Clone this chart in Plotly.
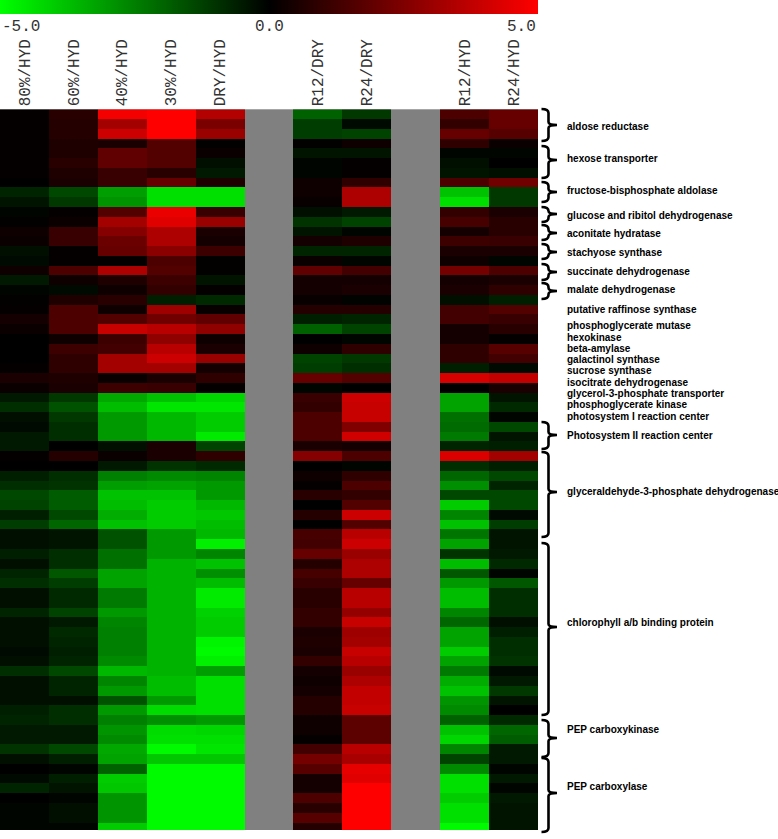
import plotly.graph_objects as go

W, H = 778, 839
column_labels = ["80%/HYD", "60%/HYD", "40%/HYD", "30%/HYD", "DRY/HYD", "",
                 "R12/DRY", "R24/DRY", "", "R12/HYD", "R24/HYD"]
tick_labels = ["-5.0", "0.0", "5.0"]

# Each row: 80, 60, 40, 30, DRY | R12/DRY, R24/DRY | R12/HYD, R24/HYD  (log ratio)
rows_aldose_hexose = [
    [.1, .8, 4.8, 5, 3.5, -1.9, -1.1, 1.5, 2.0],
    [.1, .7, 3.2, 5, 2.4, -1.2, -.2, 1.0, 2.0],
    [.1, .7, 4.0, 5, 3.0, -1.2, -1.3, 2.0, 1.7],
    [.1, .6, .5, 1.6, .05, .05, .3, .9, .2],
    [.1, .6, 1.9, 1.6, .2, -.4, -.4, -.1, -.1],
    [.1, .8, 1.9, 1.6, -.3, -.1, .1, -.3, 0],
    [.1, .6, 1.1, .8, -.5, -.1, .1, -.4, -.3],
]
rows_aldolase_to_malate = [
    [0, .5, 1.1, 2.0, .6, .3, .9, 1.5, 2.2],
    [-.7, -1.4, -3.1, -4.4, -4.4, .3, 3.4, -3.8, -1.1],
    [-.4, -1.1, -2.9, -4.4, -4.4, .15, 3.4, -4.4, -1.1],
    [-.1, .1, 1.6, 4.6, 1.1, -.3, -.5, 1.0, .5],
    [.05, .2, 3.2, 4.4, 3.0, -1.0, -1.3, 1.4, .8],
    [.3, 1.1, 2.6, 3.4, .5, -.4, -.1, .4, .8],
    [.2, 1.1, 2.1, 3.4, .4, .4, .6, 1.2, 1.1],
    [-.3, .1, 2.0, 2.7, 1.2, -.7, -.7, .5, .5],
    [-.2, .1, .1, 1.5, .05, .2, -.1, .3, -.1],
    [.3, 1.5, 3.4, 1.6, .05, 1.9, 1.3, 2.3, 1.5],
    [-.5, .3, .6, 1.2, -.4, .4, .4, .4, .5],
    [-.1, -.2, .3, 1.0, .1, .4, .5, .5, .9],
    [.05, .6, .8, -.6, -.8, .15, -.05, -.3, -.6],
]
rows_single_genes = [
    [.1, 1.5, .3, 3.1, .15, .7, .7, 1.3, 1.6],
    [.4, 1.5, 1.6, 2.2, 1.9, -.6, -.7, 1.3, 1.1],
    [.2, 1.5, 3.9, 3.6, 2.8, -1.9, -1.3, .4, .8],
    [0, .3, 1.2, 2.8, .3, 0, -.1, .4, .1],
    [0, 1.2, 1.3, 3.6, .5, .3, .9, .9, 1.7],
    [0, .9, 3.2, 4.0, 3.0, -1.3, -1.1, .9, 1.3],
    [.1, .9, 3.2, 3.2, .4, -1.2, -.9, -.6, -.2],
    [.5, .6, .2, .5, .9, 2.0, 1.6, 4.2, 3.8],
    [.2, .5, 1.2, 1.1, .1, -.1, 0, 0, .5],
]
rows_photosystem = [
    [-.5, -1.1, -3.3, -3.8, -4.2, 1.1, 4.0, -3.2, -.4],
    [-.9, -1.6, -3.7, -4.5, -4.5, 1.0, 3.9, -3.2, -.8],
    [-.3, -1.1, -3.0, -3.6, -4.0, 1.5, 3.9, -2.2, -.1],
    [-.2, -.9, -3.0, -3.6, -4.0, 1.5, 2.5, -2.1, -1.4],
    [-.5, -.9, -3.0, -3.6, -4.6, 1.5, 4.1, -2.4, -.4],
    [-.5, 0, -.3, .5, -1.3, .5, .4, -.7, -.6],
    [.1, .7, .2, .5, .9, 2.6, 1.5, 4.3, 3.2],
    [0, 0, -.5, -1.0, -.8, 0, -.1, -.9, -.6],
]
rows_gapdh = [
    [-.6, -.9, -2.5, -2.7, -2.6, .3, .9, -2.0, -1.4],
    [-.9, -1.0, -3.1, -3.2, -3.0, .1, 1.5, -2.8, -.7],
    [-1.4, -1.8, -3.8, -3.8, -3.0, .8, 1.0, -1.4, -1.4],
    [-1.3, -1.8, -3.7, -4.0, -3.6, 0, 1.6, -4.0, -1.4],
    [-.6, -1.4, -3.4, -4.0, -3.9, .7, 4.0, -2.6, -.2],
    [-1.2, -2.0, -3.8, -4.0, -3.7, 0, 1.6, -3.8, -1.2],
]
rows_chlorophyll = [
    [-.3, -.4, -1.6, -3.0, -3.6, 1.4, 3.6, -2.3, -.4],
    [-.3, -.4, -1.6, -3.0, -4.7, 1.3, 4.0, -3.2, -.4],
    [-.6, -.9, -2.2, -3.0, -2.6, 2.0, 3.0, -1.0, -.5],
    [-.3, -.9, -2.2, -3.5, -3.8, .7, 3.4, -3.7, -.8],
    [-.7, -1.7, -3.2, -3.5, -2.8, 1.4, 3.4, -1.7, -.1],
    [-.9, -1.2, -3.2, -3.5, -3.7, 1.1, 2.0, -3.0, -1.7],
    [-.3, -.8, -2.4, -3.5, -4.6, .8, 3.6, -3.7, -.9],
    [-.3, -.8, -2.4, -3.5, -4.6, .8, 3.6, -3.7, -.9],
    [-.7, -1.3, -3.0, -3.5, -4.1, 1.0, 2.9, -2.6, -.9],
    [-.3, -.5, -2.6, -3.5, -4.0, 1.0, 3.9, -2.0, -.3],
    [-.3, -.8, -2.5, -3.5, -4.0, .5, 3.1, -3.2, -.6],
    [-.3, -.7, -2.5, -3.5, -4.8, .6, 3.2, -3.2, -.9],
    [-.2, -.6, -2.5, -3.5, -4.9, .5, 3.9, -4.0, -.9],
    [-.3, -.7, -2.7, -3.5, -4.7, 1.0, 3.6, -3.2, -1.0],
    [-.9, -1.4, -3.6, -3.5, -3.1, .4, 3.0, -2.4, -.2],
    [-.3, -.7, -2.6, -3.7, -4.4, .3, 3.4, -3.4, -.5],
    [-.3, -.7, -3.0, -3.7, -4.4, .4, 3.8, -3.8, -1.1],
    [-.3, -.3, -1.6, -3.0, -4.4, .7, 3.8, -2.9, -.4],
]
rows_pep = [
    [-.6, -.9, -3.0, -4.3, -4.4, .7, 3.9, -2.7, 0],
    [-.7, -.9, -2.5, -2.8, -3.0, .3, 1.8, -1.9, -.8],
    [-.5, -.5, -2.9, -4.3, -4.2, .3, 1.8, -3.8, -2.0],
    [-.5, -.5, -2.7, -4.4, -4.4, .1, 1.8, -4.2, -1.8],
    [-1.0, -1.4, -3.3, -4.9, -4.5, 1.3, 3.6, -2.6, -.5],
    [-.3, -.6, -3.2, -3.9, -3.9, 2.3, 3.3, -1.3, -.5],
    [0, -.1, -1.9, -4.9, -4.9, 1.7, 4.5, -2.7, -.1],
    [-.2, -.6, -4.0, -4.9, -4.9, .4, 4.4, -4.4, -.5],
    [-.7, -.4, -3.9, -4.9, -4.9, .4, 5, -4.4, -.1],
    [0, -.1, -2.9, -4.9, -4.9, 1.5, 5, -4.0, -.5],
    [-.1, -.3, -2.9, -4.9, -4.9, .8, 5, -4.4, -.4],
    [-.1, -.3, -2.9, -4.9, -4.9, 1.7, 5, -4.4, -.4],
    [-.1, -.1, -4.0, -4.9, -4.9, .7, 5, -4.9, -.4],
]

all_rows = (rows_aldose_hexose + rows_aldolase_to_malate + rows_single_genes +
            rows_photosystem + rows_gapdh + rows_chlorophyll + rows_pep)
# gaps (grey columns) are missing values between the three experiment groups
z = [r[:5] + [None] + r[5:7] + [None] + r[7:] for r in all_rows]

gene_labels = [
    ("aldose reductase", 126), ("hexose transporter", 159),
    ("fructose-bisphosphate aldolase", 191),
    ("glucose and ribitol dehydrogenase", 215), ("aconitate hydratase", 233),
    ("stachyose synthase", 252), ("succinate dehydrogenase", 271),
    ("malate dehydrogenase", 290), ("putative raffinose synthase", 309),
    ("phosphoglycerate mutase", 326), ("hexokinase", 337), ("beta-amylase", 348),
    ("galactinol synthase", 359), ("sucrose synthase", 370),
    ("isocitrate dehydrogenase", 382), ("glycerol-3-phosphate transporter", 393),
    ("phosphoglycerate kinase", 404), ("photosystem I reaction center", 416),
    ("Photosystem II reaction center", 435),
    ("glyceraldehyde-3-phosphate dehydrogenase", 491),
    ("chlorophyll a/b binding protein", 622), ("PEP carboxykinase", 729),
    ("PEP carboxylase", 786),
]
# bracket: top, bottom, tip (pixels)
brackets = [
    (109, 141, 125), (146, 178, 160), (182, 202, 192), (207, 222, 214),
    (225, 240, 233), (244, 259, 252), (264, 280, 272), (283, 299, 291),
    (422, 449, 435), (452, 537, 492), (543, 715, 627), (720, 757, 738),
    (758, 832, 793),
]

px = lambda x: x / W
py = lambda y: 1 - y / H

fig = go.Figure(go.Heatmap(
    z=z, x=list(range(11)), y=list(range(len(z))),
    zmin=-5, zmax=5, zmid=0,
    colorscale=[[0, "#00ff00"], [0.5, "#000000"], [1, "#ff0000"]],
    hoverongaps=False,
    colorbar=dict(orientation="h", x=0, xanchor="left", y=1, yanchor="top",
                  lenmode="pixels", len=538, thicknessmode="pixels", thickness=14,
                  xpad=0, ypad=0, outlinewidth=0, borderwidth=0,
                  ticks="", showticklabels=False),
))

shapes = []
for top, bot, tip in brackets:
    sx, hx, tx = 548.5, 541.5, 557
    path = (f"M {px(hx)},{py(top)} Q {px(sx)},{py(top)} {px(sx)},{py(top+4)} "
            f"L {px(sx)},{py(tip-3)} Q {px(sx)},{py(tip)} {px(tx)},{py(tip)} "
            f"Q {px(sx)},{py(tip)} {px(sx)},{py(tip+3)} "
            f"L {px(sx)},{py(bot-4)} Q {px(sx)},{py(bot)} {px(hx)},{py(bot)}")
    shapes.append(dict(type="path", xref="paper", yref="paper", path=path,
                       line=dict(color="#000000", width=2.6)))

annotations = []
for text, y in gene_labels:
    annotations.append(dict(
        text=text, xref="paper", yref="paper", x=px(565), y=py(y),
        xanchor="left", yanchor="middle", showarrow=False,
        font=dict(family="Liberation Sans", size=10, color="#000000", weight="bold")))
for text, x, anchor in zip(tick_labels, [0, 269, 538], ["left", "center", "right"]):
    annotations.append(dict(
        text=text, xref="paper", yref="paper", x=px(x), y=py(27),
        xanchor=anchor, yanchor="middle", showarrow=False,
        font=dict(family="Liberation Mono", size=16, color="#333333")))

fig.update_layout(
    width=W, height=H, margin=dict(l=0, r=0, t=0, b=0),
    paper_bgcolor="#ffffff", plot_bgcolor="#808080",
    shapes=shapes, annotations=annotations, showlegend=False,
    xaxis=dict(domain=[0, px(538)], range=[-0.5, 10.5], side="top",
               tickmode="array", tickvals=list(range(11)), ticktext=column_labels,
               tickangle=-90, ticks="", ticklen=0, showgrid=False, zeroline=False,
               ticklabelstandoff=2,
               tickfont=dict(family="Liberation Mono", size=16, color="#333333")),
    yaxis=dict(domain=[py(830), py(109.3)], range=[73.3, -0.5], showticklabels=False,
               ticks="", showgrid=False, zeroline=False),
)
fig.write_html("out.html", config=dict(displayModeBar=False),
               post_script="document.body.style.margin='0';")
